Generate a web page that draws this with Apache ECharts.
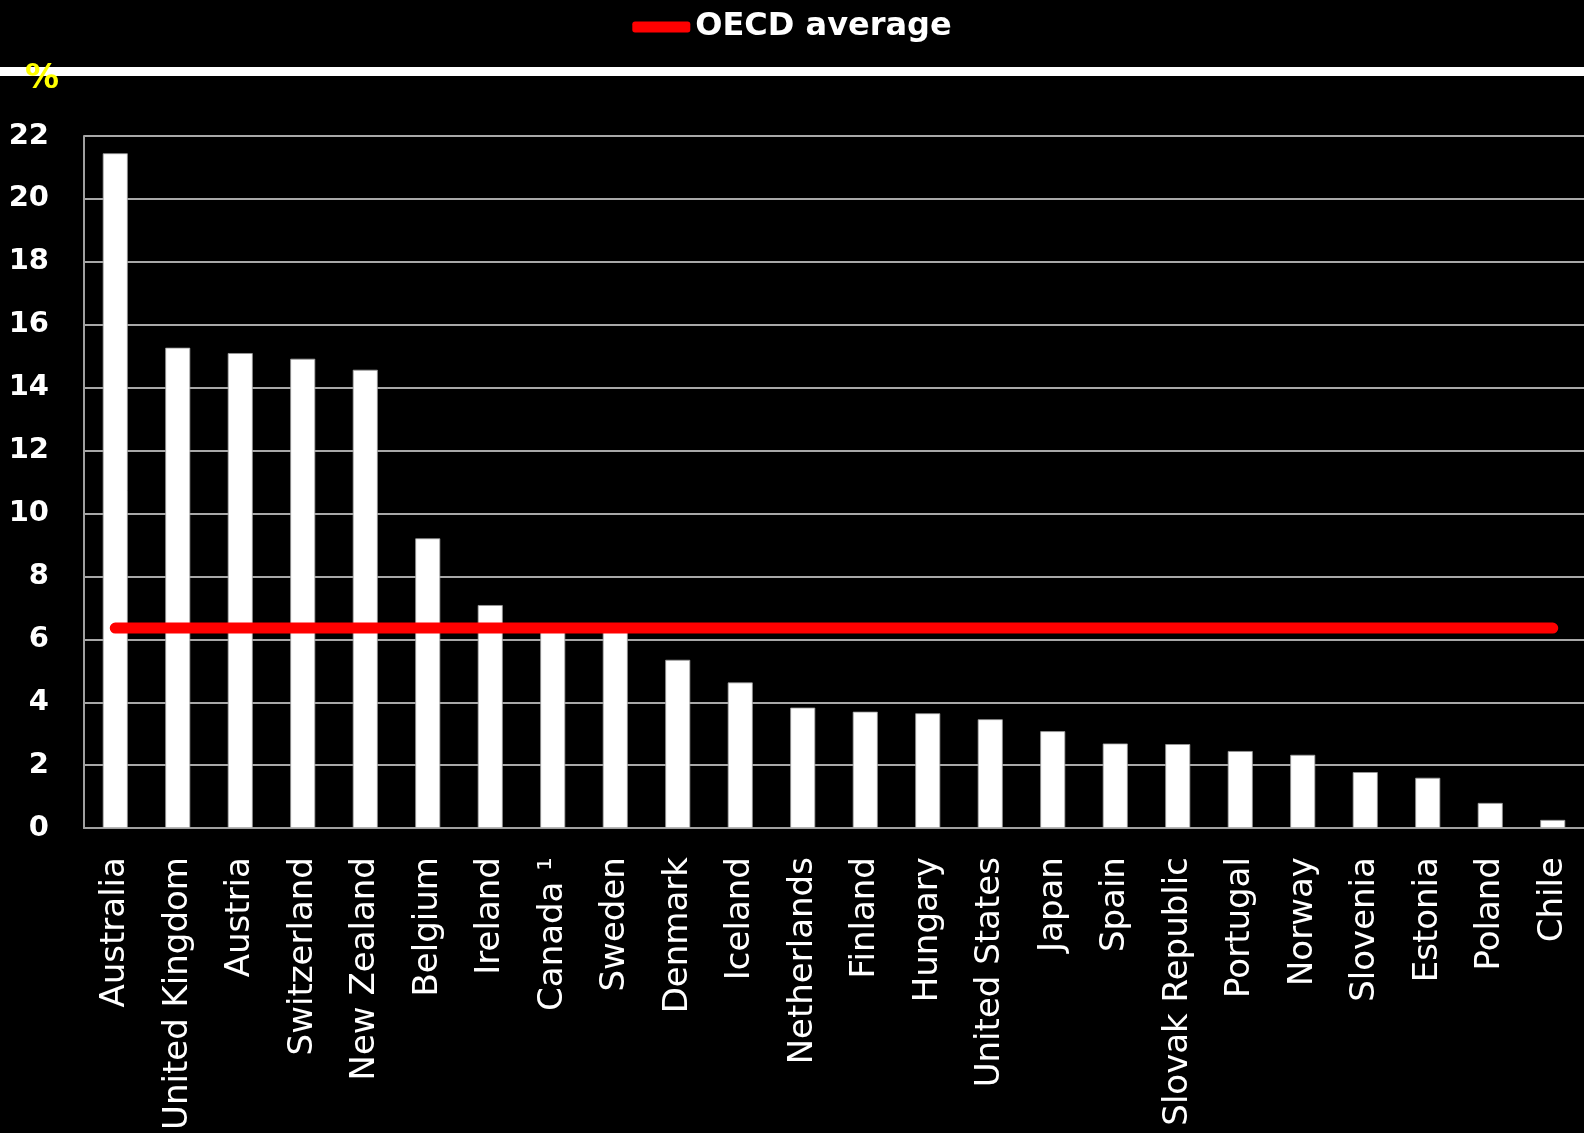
<!DOCTYPE html>
<html>
<head>
<meta charset="utf-8">
<script src="https://cdn.jsdelivr.net/npm/echarts@6/dist/echarts.min.js"></script>
<style>
  html, body { margin: 0; padding: 0; background: #000; overflow: hidden; }
  #chart { width: 1584px; height: 1133px; }
</style>
</head>
<body>
<div id="chart"></div>
<script>
// Countries, ranked by share (%)
const countries = [
  'Australia', 'United Kingdom', 'Austria', 'Switzerland', 'New Zealand',
  'Belgium', 'Ireland', 'Canada \u00b9', 'Sweden', 'Denmark', 'Iceland',
  'Netherlands', 'Finland', 'Hungary', 'United States', 'Japan', 'Spain',
  'Slovak Republic', 'Portugal', 'Norway', 'Slovenia', 'Estonia', 'Poland', 'Chile'
];
const shares = [
  21.45, 15.27, 15.1, 14.92, 14.57,
  9.21, 7.09, 6.3, 6.25, 5.35, 4.63,
  3.83, 3.7, 3.65, 3.46, 3.08, 2.69,
  2.67, 2.45, 2.33, 1.78, 1.6, 0.8, 0.26
];
const oecdAverage = 6.36;
const yTicks = { min: 0, max: 22, interval: 2 };

const fontFamily = '"DejaVu Sans", sans-serif';

const chart = echarts.init(document.getElementById('chart'));
chart.setOption({
  backgroundColor: '#000',
  animation: false,
  textStyle: { fontFamily: fontFamily },
  graphic: [
    { type: 'rect', left: 0, top: 67, z: 10,
      shape: { width: 1584, height: 9 }, style: { fill: '#fff' } },
    { type: 'text', left: 25, top: 62, z: 20,
      style: { text: '%', fill: '#ffff00', font: 'bold 34px ' + fontFamily } }
  ],
  legend: {
    top: 6,
    left: 'center',
    data: ['OECD average'],
    icon: 'roundRect',
    itemWidth: 58,
    itemHeight: 11,
    textStyle: { color: '#fff', fontSize: 32, fontWeight: 'bold', fontFamily: fontFamily }
  },
  grid: { left: 84, right: 0, top: 136, height: 697, containLabel: false },
  xAxis: {
    type: 'category',
    data: countries,
    axisLine: { show: true, lineStyle: { color: '#a0a0a0', width: 2 } },
    axisTick: { show: false },
    axisLabel: {
      rotate: 90, interval: 0, margin: 29,
      color: '#fff', fontSize: 34, fontFamily: fontFamily
    }
  },
  yAxis: {
    type: 'value',
    min: yTicks.min, max: yTicks.max, interval: yTicks.interval,
    axisLine: { show: true, lineStyle: { color: '#a0a0a0', width: 2 } },
    axisTick: { show: false },
    splitLine: { lineStyle: { color: '#e0e0e0', width: 1.5 } },
    axisLabel: {
      margin: 35, color: '#fff', fontSize: 29, fontWeight: 'bold', fontFamily: fontFamily
    }
  },
  series: [
    {
      name: 'Share',
      type: 'bar',
      data: shares,
      barWidth: 25,
      itemStyle: { color: '#fff', borderColor: '#9a9a9a', borderWidth: 0.8 },
      z: 2
    },
    {
      name: 'OECD average',
      type: 'line',
      data: countries.map(() => oecdAverage),
      showSymbol: false,
      symbol: 'none',
      itemStyle: { color: '#ff0000' },
      lineStyle: { color: '#ff0000', width: 11, cap: 'round' },
      z: 5
    }
  ]
});
</script>
</body>
</html>
